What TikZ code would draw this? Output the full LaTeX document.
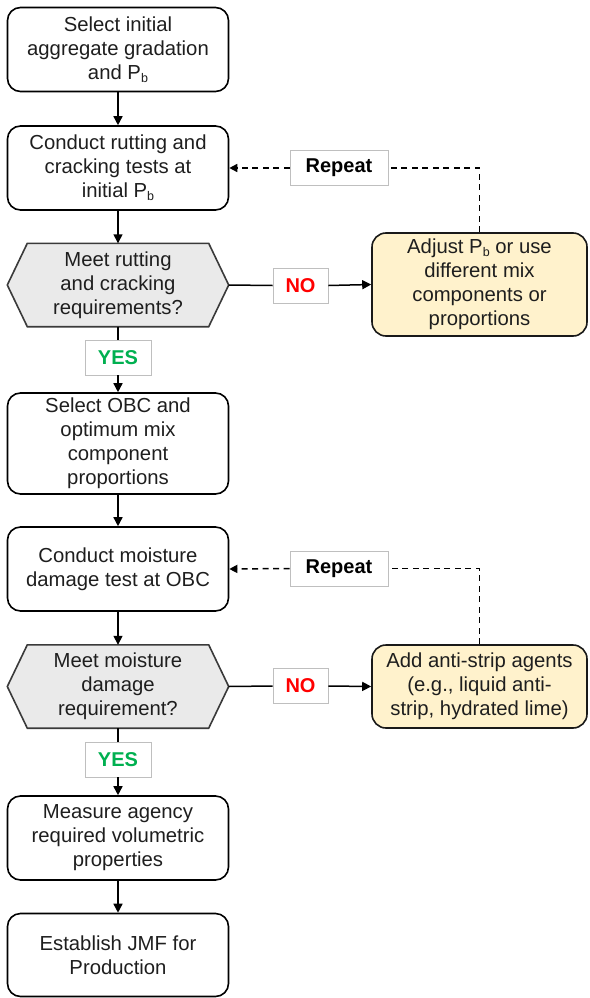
\documentclass[tikz,border=0pt]{standalone}
\usepackage{fontspec}
\setmainfont{Liberation Sans}
\usetikzlibrary{arrows.meta,backgrounds,calc}
\definecolor{hexfill}{HTML}{EAEAEA}
\definecolor{hexline}{HTML}{3A3A3A}
\definecolor{adjfill}{HTML}{FFF2CC}
\definecolor{nored}{HTML}{FF0000}
\definecolor{yesgreen}{HTML}{00B050}
\definecolor{lblborder}{HTML}{BFBFBF}
\definecolor{txtdark}{HTML}{1E1E1E}
\newcommand{\subb}{\raisebox{-0.25ex}{\fontsize{12.5}{12.5}\selectfont b}}
\begin{document}
\begin{tikzpicture}[x=1pt,y=-1pt,
  txt/.style={font=\fontsize{20.3}{24}\selectfont, align=center, inner sep=0pt, text=txtdark},
  procbox/.style={txt, draw=black, line width=1.6pt, rounded corners=13pt, minimum width=221pt, minimum height=84pt},
  adjbox/.style={txt, draw=black!90, fill=adjfill, line width=1.6pt, rounded corners=14pt, minimum width=215pt},
  hexnode/.style={txt, minimum width=221pt, minimum height=83pt},
  hexshape/.style={draw=hexline, fill=hexfill, line width=1.6pt, line join=miter},
  lbl/.style={draw=lblborder, line width=0.8pt, fill=white, font=\bfseries\fontsize{20}{24}\selectfont, inner sep=0pt, minimum height=35pt},
  conn/.style={draw=black, line width=1.5pt},
  arr/.style={conn, -{Triangle[length=9pt,width=9pt]}},
  dashline/.style={draw=black, line width=1.5pt, dash pattern=on 6pt off 4.5pt},
  dasharr/.style={dashline, -{Triangle[length=8pt,width=8pt]}}
]
\useasboundingbox (0,0) rectangle (589,998);

% left column
\node[procbox] (b1) at (118,49.5) {Select initial\\aggregate gradation\\and P\subb};
\node[procbox] (b2) at (118,168) {Conduct rutting and\\cracking tests at\\initial P\subb};
\node[hexnode] (h1) at (118,285) {Meet rutting\\and cracking\\requirements?};
\node[lbl, minimum width=66pt, text=yesgreen] (yes1) at (118,357.5) {YES};
\node[procbox, minimum height=101pt] (b3) at (118,443.5) {Select OBC and\\optimum mix\\component\\proportions};
\node[procbox] (b4) at (118,569) {Conduct moisture\\damage test at OBC};
\node[hexnode] (h2) at (118,686.5) {Meet moisture\\damage\\requirement?};
\node[lbl, minimum width=66pt, text=yesgreen] (yes2) at (118,759.5) {YES};
\node[procbox] (b5) at (118,838) {Measure agency\\required volumetric\\properties};
\node[procbox, minimum height=83pt] (b6) at (118,955) {Establish JMF for\\Production};

% right column
\node[adjbox, minimum height=103pt] (a1) at (479.5,284.5) {Adjust P\subb{} or use\\different mix\\components or\\proportions};
\node[adjbox, minimum height=83pt] (a2) at (479.5,686.5) {Add anti-strip agents\\(e.g., liquid anti-\\strip, hydrated lime)};

% labels
\node[lbl, minimum width=55pt, text=nored] (no1) at (300.5,285.5) {NO};
\node[lbl, minimum width=55pt, text=nored] (no2) at (300.5,686) {NO};
\node[lbl, minimum width=98pt, text=black] (rep1) at (339,168) {Repeat};
\node[lbl, minimum width=98pt, text=black] (rep2) at (339,568.5) {Repeat};

% hexagon outlines
\begin{scope}[on background layer]
  \foreach \h in {h1,h2}{
    \path[hexshape] (\h.west) -- ($(\h.north west)+(20,0)$) -- ($(\h.north east)-(20,0)$)
      -- (\h.east) -- ($(\h.south east)-(20,0)$) -- ($(\h.south west)+(20,0)$) -- cycle;
  }
\end{scope}

% connectors
\draw[arr] (b1) -- (b2);
\draw[arr] (b2) -- (h1);
\draw[conn] (h1) -- (yes1);
\draw[arr] (yes1) -- (b3);
\draw[arr] (b3) -- (b4);
\draw[arr] (b4) -- (h2);
\draw[conn] (h2) -- (yes2);
\draw[arr] (yes2) -- (b5);
\draw[arr] (b5) -- (b6);

\draw[conn] (h1.east) -- (no1.west);
\draw[arr] (no1.east) -- (a1.west);
\draw[conn] (h2.east) -- (no2.west);
\draw[arr] (no2.east) -- (a2.west);

\draw[dashline] (a1.north) |- (rep1.east);
\draw[dasharr] (rep1.west) -- (b2.east);
\draw[dashline] (a2.north) |- (rep2.east);
\draw[dasharr] (rep2.west) -- (b4.east);
\end{tikzpicture}
\end{document}
